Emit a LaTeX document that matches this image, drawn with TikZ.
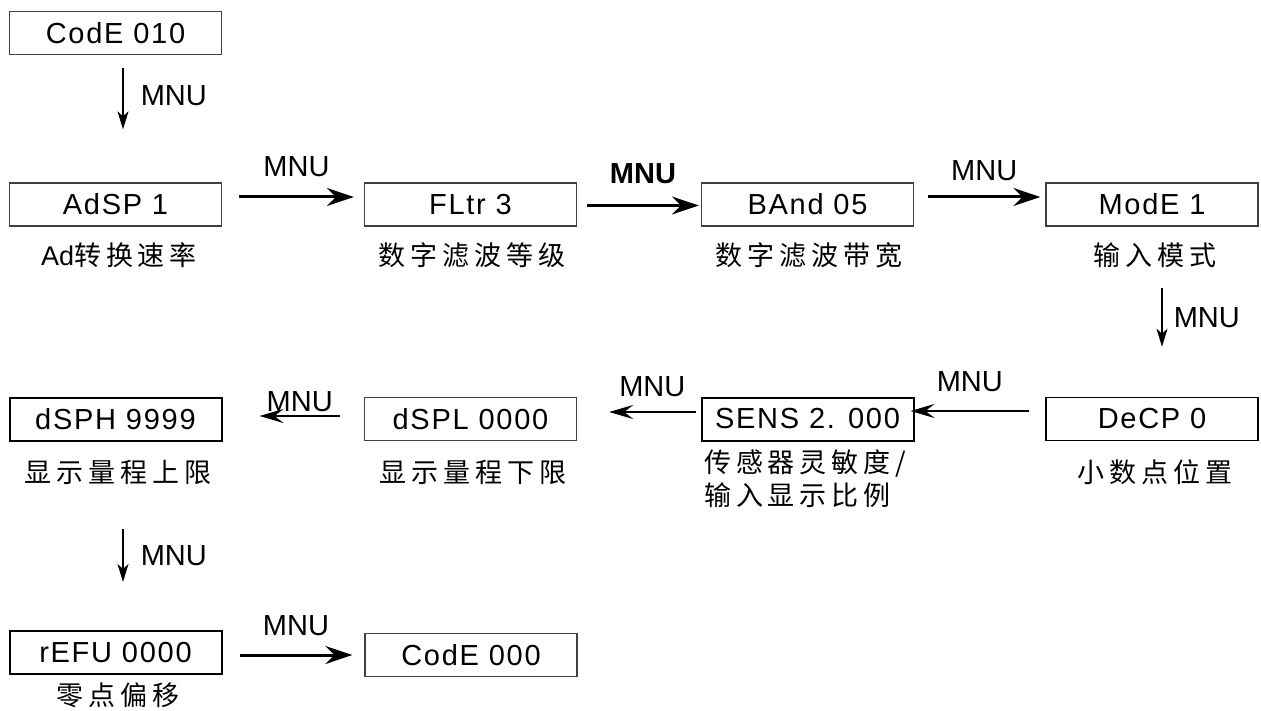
\documentclass[tikz,border=0pt]{standalone}
\usepackage{fontspec}
\setmainfont{Liberation Sans}
\newfontfamily\boxfont{Liberation Sans}[LetterSpace=6]
\newfontfamily\cjk{Noto Sans CJK SC}[LetterSpace=18]
\usetikzlibrary{arrows.meta}
\begin{document}
\begin{tikzpicture}[x=1pt,y=-1pt,
  box/.style={draw=black!75,line width=1.3pt,minimum width=212pt,minimum height=43pt,inner sep=0pt,
    font=\boxfont\fontsize{29}{34}\selectfont},
  boxb/.style={box,draw=black,line width=2pt},
  lbl/.style={inner sep=0pt,font=\cjk\fontsize{27}{33}\selectfont,align=center},
  mnu/.style={inner sep=0pt,font=\fontsize{29}{34}\selectfont},
  rarrow/.style={line width=3pt,-{Stealth[length=27pt,width=18pt,inset=9pt]}},
  larrow/.style={line width=2pt,-{Stealth[length=24pt,width=14pt,inset=9pt]}},
  darrow/.style={line width=1.5pt,-{Stealth[length=18pt,width=11pt,inset=5pt]}}]
\useasboundingbox (0,0) rectangle (1261,711);
% boxes
\node[box]  (code1) at (115.5,33) {CodE 010};
\node[box]  (adsp)  at (115.5,204.5) {AdSP 1};
\node[box]  (fltr)  at (470.5,204.5) {FLtr 3};
\node[box]  (band)  at (807.5,204.5) {BAnd 05};
\node[box]  (mode)  at (1152,204.5) {ModE 1};
\node[box,line width=1.6pt,draw=black]  (decp)  at (1152,419) {DeCP 0};
\node[boxb] (sens)  at (807.5,419) {SENS 2. 000};
\node[box]  (dspl)  at (470.5,419) {dSPL 0000};
\node[boxb] (dsph)  at (115.5,419) {dSPH 9999};
\node[boxb] (refu)  at (115.5,652.5) {rEFU 0000};
\node[box]  (code0) at (471,655) {CodE 000};
% labels
\node[lbl] (ladsp) at (119,255) {{\fontspec{Liberation Sans}[LetterSpace=0]Ad}转换速率};
\node[lbl] (lfltr) at (472,255) {数字滤波等级};
\node[lbl] (lband) at (809,255) {数字滤波带宽};
\node[lbl] (lmode) at (1155,255) {输入模式};
\node[lbl] (ldecp) at (1155,472) {小数点位置};
\node[lbl,align=left,anchor=west] (lsens) at (704,479) {传感器灵敏度/\\输入显示比例};
\node[lbl] (ldspl) at (473,472) {显示量程下限};
\node[lbl] (ldsph) at (118,472) {显示量程上限};
\node[lbl] (lrefu) at (118,695) {零点偏移};
% connectors
\draw[darrow] ([xshift=7.5pt,yshift=-13pt]code1.south) -- ([xshift=7.5pt,yshift=53pt]adsp.north)
  node[mnu,pos=0.45,right=17pt] (m1) {MNU};
\draw[rarrow] ([xshift=17pt,yshift=7.5pt]adsp.east) -- ([xshift=-10pt,yshift=7.5pt]fltr.west)
  node[mnu,midway,above=19pt] (m2) {MNU};
\draw[rarrow] ([xshift=10pt,yshift=-1pt]fltr.east) -- ([xshift=-2pt,yshift=-1pt]band.west)
  node[mnu,midway,above=20pt,font=\bfseries\fontsize{29}{34}\selectfont] (m3) {MNU};
\draw[rarrow] ([xshift=14pt,yshift=7.5pt]band.east) -- ([xshift=-5pt,yshift=7.5pt]mode.west)
  node[mnu,midway,above=14.5pt] (m4) {MNU};
\draw[darrow] ([xshift=10pt,yshift=-61pt]mode.south) -- ([xshift=10pt,yshift=50pt]decp.north)
  node[mnu,pos=0.5,right=11pt] (m5) {MNU};
\draw[larrow] ([xshift=-16pt,yshift=8pt]decp.west) -- ([xshift=-4pt,yshift=8pt]sens.east)
  node[mnu,midway,above=18.5pt] (m6) {MNU};
\draw[larrow] ([xshift=-5pt,yshift=7pt]sens.west) -- ([xshift=32pt,yshift=7pt]dspl.east)
  node[mnu,midway,above=14.5pt] (m7) {MNU};
\draw[larrow] ([xshift=-24pt,yshift=3pt]dspl.west) -- ([xshift=37pt,yshift=3pt]dsph.east)
  node[mnu,midway,above=3.5pt] (m8) {MNU};
\draw[darrow] ([xshift=7.5pt,yshift=-87pt]dsph.south) -- ([xshift=7.5pt,yshift=48pt]refu.north)
  node[mnu,pos=0.5,right=17pt] (m9) {MNU};
\draw[rarrow] ([xshift=17pt,yshift=-2.5pt]refu.east) -- ([xshift=-12pt,yshift=0pt]code0.west)
  node[mnu,midway,above=17.5pt] (m10) {MNU};
\end{tikzpicture}
\end{document}
